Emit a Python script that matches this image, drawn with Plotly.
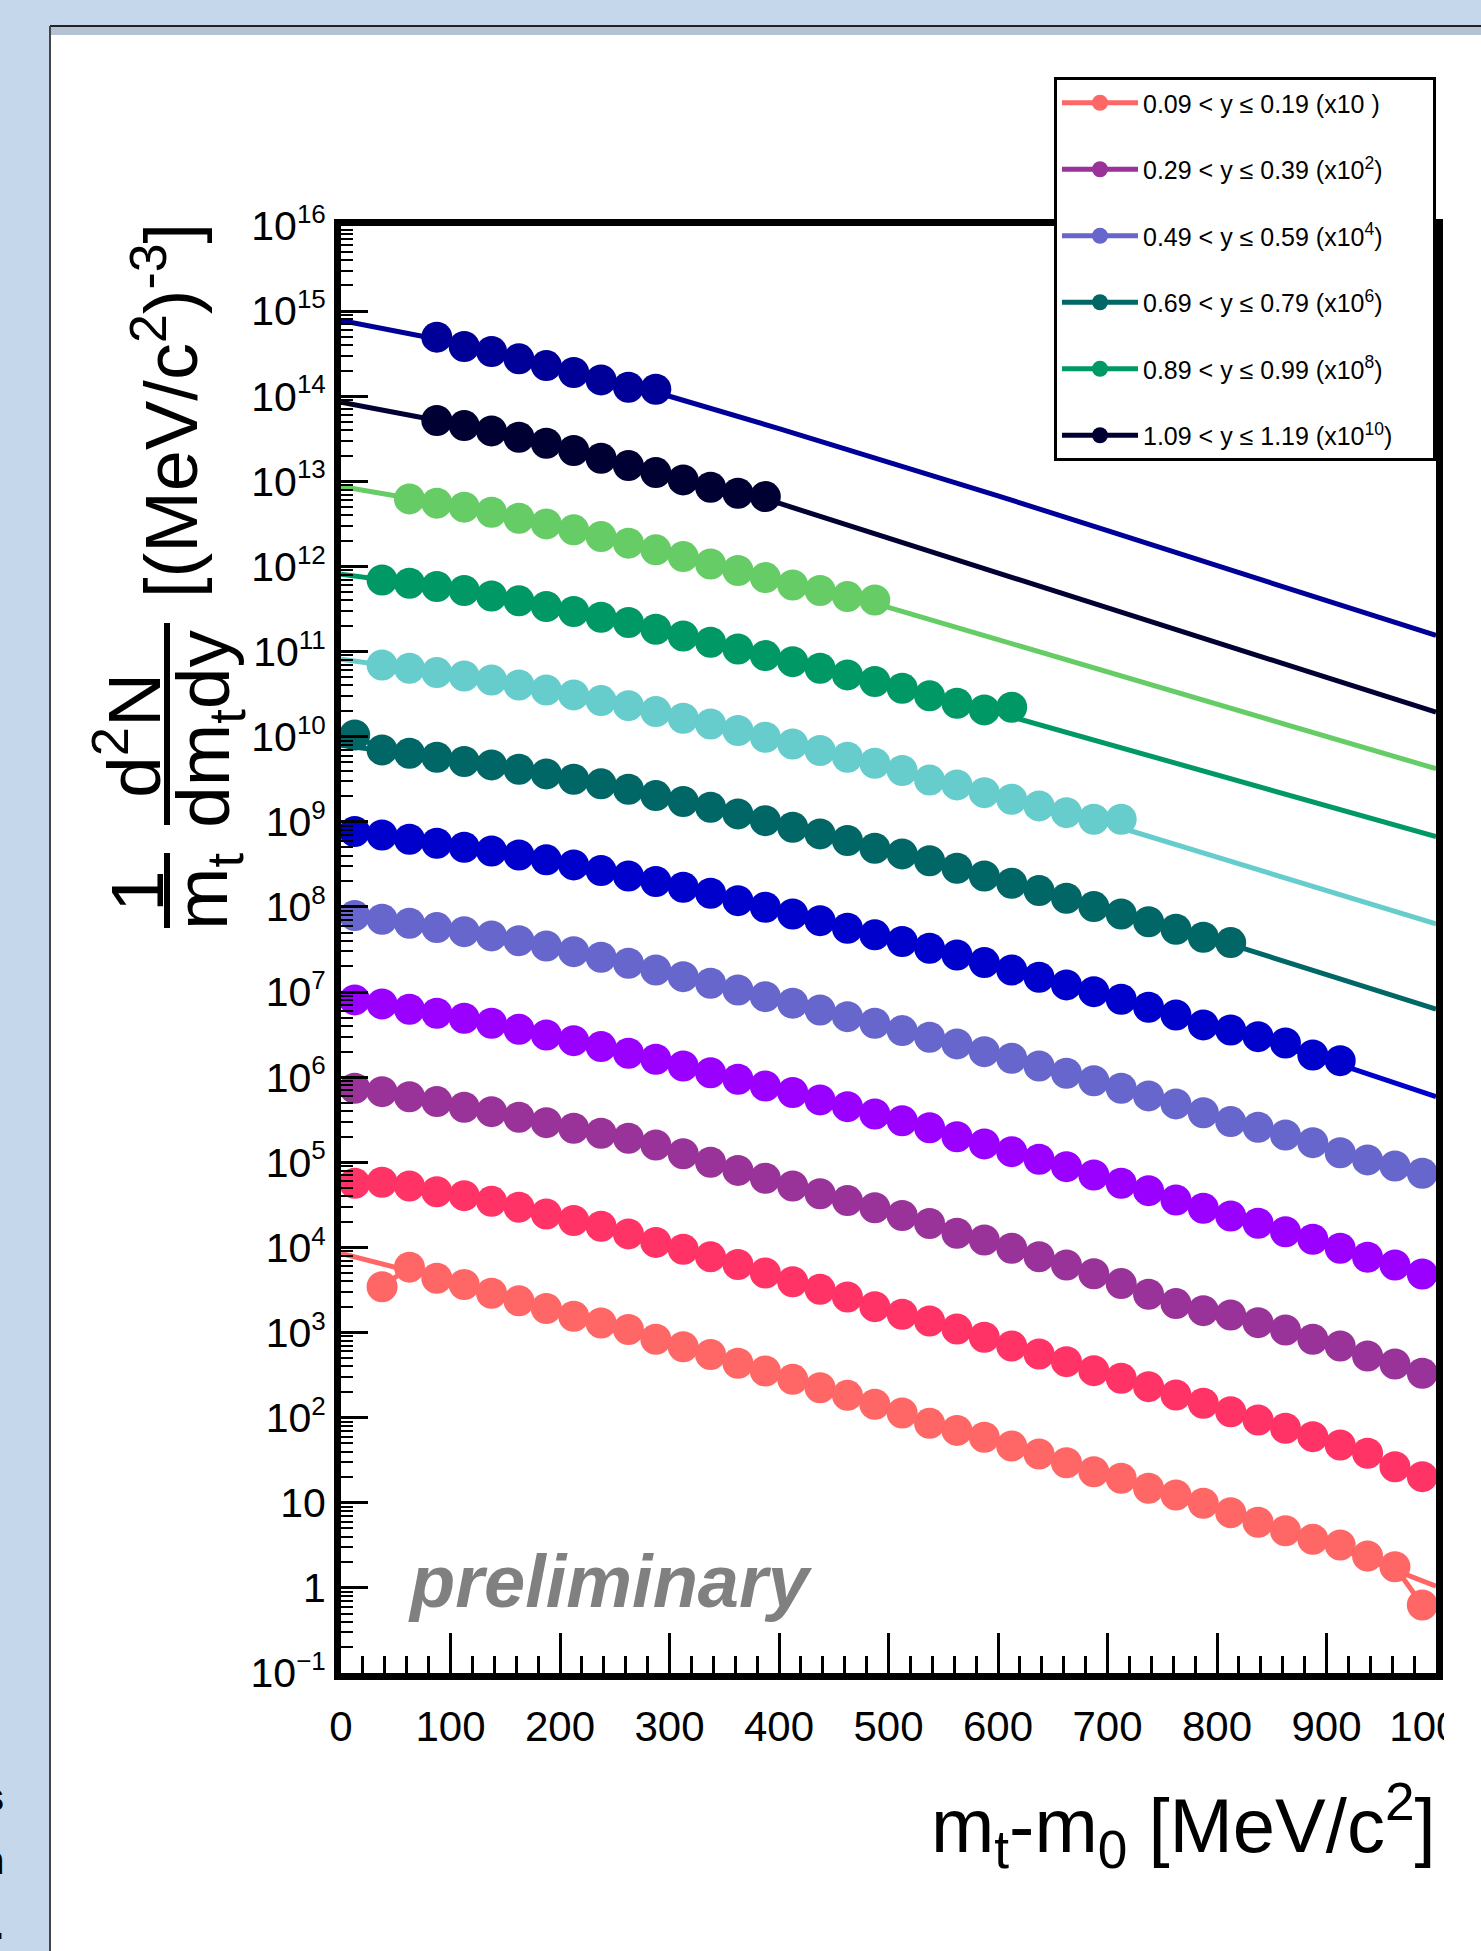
import plotly.graph_objects as go

# ---------------- data ----------------
# transverse-mass bin centres, m_t - m_0 in MeV/c^2
mt_centers = [12.5, 37.5, 62.5, 87.5, 112.5, 137.5, 162.5, 187.5, 212.5, 237.5,
              262.5, 287.5, 312.5, 337.5, 362.5, 387.5, 412.5, 437.5, 462.5, 487.5,
              512.5, 537.5, 562.5, 587.5, 612.5, 637.5, 662.5, 687.5, 712.5, 737.5,
              762.5, 787.5, 812.5, 837.5, 862.5, 887.5, 912.5, 937.5, 962.5, 987.5]

# x positions where the fitted curves were read
fit_x = [0, 100, 200, 300, 400, 500, 600, 700, 800, 900, 1000]

# y-axis decades (tick labels 10^n)
y_tick_exponents = [-1, 0, 1, 2, 3, 4, 5, 6, 7, 8, 9, 10, 11, 12, 13, 14, 15, 16]

# log10 of the plotted (already scaled) spectra, one list per rapidity bin
log_y_009_019 = [3.538, 3.768, 3.638, 3.565, 3.461, 3.372, 3.282, 3.192, 3.111, 3.035,
                 2.922, 2.833, 2.742, 2.639, 2.549, 2.450, 2.351, 2.262, 2.158, 2.055,
                 1.933, 1.850, 1.769, 1.667, 1.573, 1.471, 1.365, 1.288, 1.170, 1.092,
                 0.994, 0.884, 0.771, 0.672, 0.571, 0.504, 0.375, 0.249, -0.201]
log_y_019_029 = [4.753, 4.766, 4.721, 4.654, 4.608, 4.541, 4.473, 4.393, 4.317, 4.249,
                 4.159, 4.059, 3.978, 3.889, 3.799, 3.700, 3.597, 3.507, 3.417, 3.304,
                 3.215, 3.136, 3.040, 2.944, 2.842, 2.748, 2.658, 2.552, 2.463, 2.364,
                 2.266, 2.169, 2.070, 1.973, 1.875, 1.777, 1.679, 1.581, 1.424, 1.307]
log_y_029_039 = [5.870, 5.830, 5.771, 5.713, 5.647, 5.595, 5.529, 5.466, 5.400, 5.341,
                 5.283, 5.204, 5.100, 5.000, 4.905, 4.812, 4.721, 4.630, 4.550, 4.465,
                 4.375, 4.280, 4.166, 4.088, 3.990, 3.891, 3.794, 3.690, 3.575, 3.450,
                 3.340, 3.257, 3.206, 3.116, 3.030, 2.921, 2.842, 2.725, 2.631, 2.521]
log_y_039_049 = [6.908, 6.861, 6.798, 6.751, 6.693, 6.634, 6.563, 6.496, 6.429, 6.359,
                 6.281, 6.211, 6.132, 6.053, 5.976, 5.897, 5.819, 5.733, 5.654, 5.568,
                 5.489, 5.406, 5.301, 5.216, 5.125, 5.036, 4.949, 4.851, 4.754, 4.667,
                 4.558, 4.460, 4.370, 4.284, 4.185, 4.096, 3.990, 3.884, 3.794, 3.688]
log_y_049_059 = [7.898, 7.856, 7.809, 7.757, 7.710, 7.660, 7.604, 7.542, 7.475, 7.409,
                 7.339, 7.260, 7.181, 7.104, 7.025, 6.946, 6.869, 6.790, 6.711, 6.634,
                 6.547, 6.470, 6.391, 6.300, 6.223, 6.132, 6.046, 5.959, 5.870, 5.780,
                 5.686, 5.583, 5.478, 5.412, 5.321, 5.231, 5.113, 5.028, 4.957, 4.871]
log_y_059_069 = [8.885, 8.846, 8.796, 8.749, 8.702, 8.658, 8.611, 8.553, 8.494, 8.427,
                 8.364, 8.298, 8.232, 8.161, 8.074, 7.997, 7.918, 7.839, 7.750, 7.672,
                 7.593, 7.515, 7.436, 7.346, 7.260, 7.174, 7.084, 7.005, 6.916, 6.822,
                 6.731, 6.614, 6.555, 6.476, 6.402, 6.261, 6.194]
log_y_069_079 = [10.021, 9.845, 9.806, 9.759, 9.708, 9.669, 9.618, 9.563, 9.501, 9.446,
                 9.383, 9.308, 9.238, 9.172, 9.093, 9.014, 8.937, 8.858, 8.780, 8.690,
                 8.623, 8.543, 8.455, 8.364, 8.279, 8.192, 8.102, 8.004, 7.918, 7.827,
                 7.738, 7.644, 7.581]
log_y_079_089 = [10.843, 10.805, 10.753, 10.714, 10.667, 10.608, 10.549, 10.491, 10.424, 10.365,
                 10.295, 10.217, 10.150, 10.072, 9.994, 9.915, 9.837, 9.759, 9.689, 9.602,
                 9.490, 9.434, 9.343, 9.266, 9.187, 9.108, 9.031, 9.031]
log_y_089_099 = [11.842, 11.803, 11.764, 11.717, 11.654, 11.596, 11.529, 11.470, 11.404, 11.341,
                 11.263, 11.184, 11.110, 11.031, 10.953, 10.882, 10.805, 10.726, 10.648, 10.570,
                 10.480, 10.394, 10.315, 10.347]
log_y_099_109 = [12.794, 12.744, 12.697, 12.638, 12.567, 12.500, 12.430, 12.351, 12.274, 12.195,
                 12.116, 12.030, 11.952, 11.869, 11.783, 11.717, 11.646, 11.607]
log_y_109_119 = [13.714, 13.655, 13.593, 13.519, 13.448, 13.362, 13.272, 13.185, 13.103, 13.017,
                 12.931, 12.861, 12.821]
log_y_119_129 = [14.694, 14.584, 14.525, 14.439, 14.360, 14.278, 14.192, 14.106, 14.083]

# index of the first filled m_t bin for each rapidity slice
first_bin = [1, 0, 0, 0, 0, 0, 0, 1, 1, 2, 3, 3]

# log10 of the fitted curves at fit_x
fit_009_019 = [3.93, 3.60, 3.24, 2.88, 2.50, 2.105, 1.72, 1.33, 0.94, 0.52, 0.02]
fit_019_029 = [4.78, 4.63, 4.355, 4.02, 3.65, 3.26, 2.89, 2.51, 2.12, 1.73, 1.25]
fit_029_039 = [5.89, 5.68, 5.43, 5.15, 4.77, 4.42, 4.04, 3.63, 3.23, 2.88, 2.47]
fit_039_049 = [6.93, 6.72, 6.46, 6.17, 5.86, 5.53, 5.17, 4.80, 4.415, 4.04, 3.64]
fit_049_059 = [7.92, 7.73, 7.51, 7.22, 6.91, 6.59, 6.26, 5.915, 5.53, 5.17, 4.83]
fit_059_069 = [8.90, 8.725, 8.52, 8.265, 7.96, 7.63, 7.30, 6.96, 6.585, 6.20, 5.77]
fit_069_079 = [9.90, 9.73, 9.53, 9.27, 8.975, 8.655, 8.32, 7.96, 7.61, 7.206, 6.80]
fit_079_089 = [10.91, 10.73, 10.52, 10.26, 9.955, 9.645, 9.305, 8.977, 8.585, 8.193, 7.80]
fit_089_099 = [11.91, 11.74, 11.50, 11.22, 10.92, 10.61, 10.278, 9.915, 9.552, 9.189, 8.826]
fit_099_109 = [12.94, 12.72, 12.465, 12.155, 11.83, 11.52, 11.141, 10.762, 10.383, 10.003, 9.624]
fit_109_119 = [13.93, 13.685, 13.405, 13.06, 12.743, 12.33, 11.92, 11.515, 11.105, 10.697, 10.289]
fit_119_129 = [14.89, 14.64, 14.32, 14.00, 13.62, 13.23, 12.83, 12.42, 12.01, 11.60, 11.19]

series_labels = [
    "0.09 < y \u2264 0.19 (x10 )",
    "0.19 < y \u2264 0.29 (x10<sup>1</sup>)",
    "0.29 < y \u2264 0.39 (x10<sup>2</sup>)",
    "0.39 < y \u2264 0.49 (x10<sup>3</sup>)",
    "0.49 < y \u2264 0.59 (x10<sup>4</sup>)",
    "0.59 < y \u2264 0.69 (x10<sup>5</sup>)",
    "0.69 < y \u2264 0.79 (x10<sup>6</sup>)",
    "0.79 < y \u2264 0.89 (x10<sup>7</sup>)",
    "0.89 < y \u2264 0.99 (x10<sup>8</sup>)",
    "0.99 < y \u2264 1.09 (x10<sup>9</sup>)",
    "1.09 < y \u2264 1.19 (x10<sup>10</sup>)",
    "1.19 < y \u2264 1.29 (x10<sup>11</sup>)",
]
in_legend = [True, False, True, False, True, False, True, False, True, False, True, False]

# ---------------- styling ----------------
colors = ["#ff6666", "#ff3366", "#993399", "#9900ff", "#6666cc", "#0000cc",
          "#006666", "#66cccc", "#009966", "#66cc66", "#000033", "#000099"]

data_logs = [log_y_009_019, log_y_019_029, log_y_029_039, log_y_039_049,
             log_y_049_059, log_y_059_069, log_y_069_079, log_y_079_089,
             log_y_089_099, log_y_099_109, log_y_109_119, log_y_119_129]
fit_logs = [fit_009_019, fit_019_029, fit_029_039, fit_039_049, fit_049_059,
            fit_059_069, fit_069_079, fit_079_089, fit_089_099, fit_099_109,
            fit_109_119, fit_119_129]

FONT = "Liberation Sans, Arial, Helvetica, sans-serif"
W, H = 1481, 1951
L, R, T, B = 341, 1436, 226, 1673   # plot-area pixel edges


def px2x(px):
    return (px - L) / (R - L)


def px2y(py):
    return (B - py) / (B - T)


def decade_label(n):
    if n == 0:
        return "1"
    if n == 1:
        return "10"
    e = str(n).replace("-", "\u2212")
    return "10<sup><span style='font-size:26px'>%s</span></sup>" % e


fig = go.Figure()

for i in range(len(colors)):
    c = colors[i]
    fig.add_trace(go.Scatter(
        x=fit_x, y=[10 ** v for v in fit_logs[i]], mode="lines",
        line=dict(color=c, width=5), showlegend=False, hoverinfo="skip",
        legendgroup="g%d" % i))
    xs = mt_centers[first_bin[i]:first_bin[i] + len(data_logs[i])]
    label = series_labels[i]
    if i == 10:
        label = label + "\u00a0" * 5
    fig.add_trace(go.Scatter(
        x=xs, y=[10 ** v for v in data_logs[i]], mode="lines+markers",
        line=dict(color=c, width=5), marker=dict(color=c, size=31),
        name=label, showlegend=in_legend[i], legendgroup="g%d" % i))

# ---------------- decorations ----------------
shapes = [
    dict(type="rect", xref="paper", yref="paper", x0=px2x(50), x1=px2x(1495),
         y0=px2y(26), y1=px2y(1965), fillcolor="white", line=dict(width=0), layer="below"),
    dict(type="rect", xref="paper", yref="paper", x0=px2x(51), x1=px2x(1495),
         y0=px2y(27), y1=px2y(35), fillcolor="#b3c3d3", line=dict(width=0), layer="below"),
    dict(type="line", xref="paper", yref="paper", x0=px2x(50), x1=px2x(1495),
         y0=px2y(26), y1=px2y(26), line=dict(color="#222222", width=2), layer="below"),
    dict(type="line", xref="paper", yref="paper", x0=px2x(50), x1=px2x(50),
         y0=px2y(26), y1=px2y(1965), line=dict(color="#444444", width=2), layer="below"),
    # fraction bars of the y-axis title
    dict(type="line", xref="paper", yref="paper", x0=px2x(167), x1=px2x(167),
         y0=px2y(853), y1=px2y(928), line=dict(color="black", width=6)),
    dict(type="line", xref="paper", yref="paper", x0=px2x(167), x1=px2x(167),
         y0=px2y(623), y1=px2y(825), line=dict(color="black", width=6)),
    # pad edge clipping the last x tick label
    dict(type="rect", xref="paper", yref="paper", x0=px2x(1444), x1=px2x(1495),
         y0=px2y(1688), y1=px2y(1775), fillcolor="white", line=dict(width=0), layer="above"),
]

annotations = [
    dict(text="1", x=px2x(137), y=px2y(891), textangle=-90, font=dict(size=75)),
    dict(text="m<sub>t</sub>", x=px2x(206), y=px2y(892), textangle=-90, font=dict(size=75)),
    dict(text="d<sup>2</sup>N", x=px2x(128), y=px2y(736), textangle=-90, font=dict(size=75)),
    dict(text="dm<sub>t</sub>dy", x=px2x(208), y=px2y(729), textangle=-90, font=dict(size=75)),
    dict(text="[(MeV/c<sup>2</sup>)<sup>-3</sup>]", x=px2x(166), y=px2y(411), textangle=-90,
         font=dict(size=74)),
    dict(text="m<sub>t</sub>-m<sub>0</sub> [MeV/c<sup>2</sup>]", x=px2x(1438), y=px2y(1825),
         xanchor="right", font=dict(size=76)),
    dict(text="<b><i>preliminary</i></b>", x=px2x(406), y=px2y(1581), xanchor="left",
         font=dict(size=74, color="#808080")),
    dict(text="<b>s</b>", x=px2x(6), y=px2y(1797), xanchor="right", font=dict(size=40)),
    dict(text="<b>n</b>", x=px2x(6), y=px2y(1860), xanchor="right", font=dict(size=40)),
    dict(text="<b>.</b>", x=px2x(6), y=px2y(1925), xanchor="right", font=dict(size=40)),
]
for a in annotations:
    a.setdefault("xref", "paper")
    a.setdefault("yref", "paper")
    a.setdefault("xanchor", "center")
    a.setdefault("yanchor", "middle")
    a.setdefault("showarrow", False)
    a["font"].setdefault("family", FONT)
    a["font"].setdefault("color", "black")

fig.update_layout(
    width=W, height=H, autosize=False,
    margin=dict(l=L, r=W - R, t=T, b=H - B, pad=0, autoexpand=False),
    paper_bgcolor="#c5d7eb", plot_bgcolor="white",
    font=dict(family=FONT, color="black"),
    shapes=shapes, annotations=annotations,
    showlegend=True,
    legend=dict(x=px2x(1054), y=px2y(77), xanchor="left", yanchor="top",
                bgcolor="white", bordercolor="black", borderwidth=3,
                font=dict(size=25, family=FONT, color="black"),
                itemwidth=76, tracegroupgap=31, traceorder="grouped"),
    xaxis=dict(range=[0, 1000], showgrid=False, zeroline=False,
               showline=True, linecolor="black", linewidth=7, mirror=True,
               ticks="inside", ticklen=40, tickwidth=3, tickcolor="black",
               tick0=0, dtick=100, tickfont=dict(size=42, family=FONT),
               ticklabelstandoff=11, ticklabeloverflow="allow",
               minor=dict(ticks="inside", ticklen=17, tickwidth=3, tickcolor="black",
                          dtick=20, showgrid=False)),
    yaxis=dict(type="log", range=[-1, 16], showgrid=False, zeroline=False,
               showline=True, linecolor="black", linewidth=7, mirror=True,
               ticks="inside", ticklen=27, tickwidth=3, tickcolor="black",
               tickvals=[10.0 ** n for n in y_tick_exponents],
               ticktext=[decade_label(n) for n in y_tick_exponents],
               tickfont=dict(size=41, family=FONT),
               ticklabelstandoff=0,
               minor=dict(ticks="inside", ticklen=12, tickwidth=2, tickcolor="black",
                          dtick="D1", showgrid=False)),
)

fig.write_html("out.html")
